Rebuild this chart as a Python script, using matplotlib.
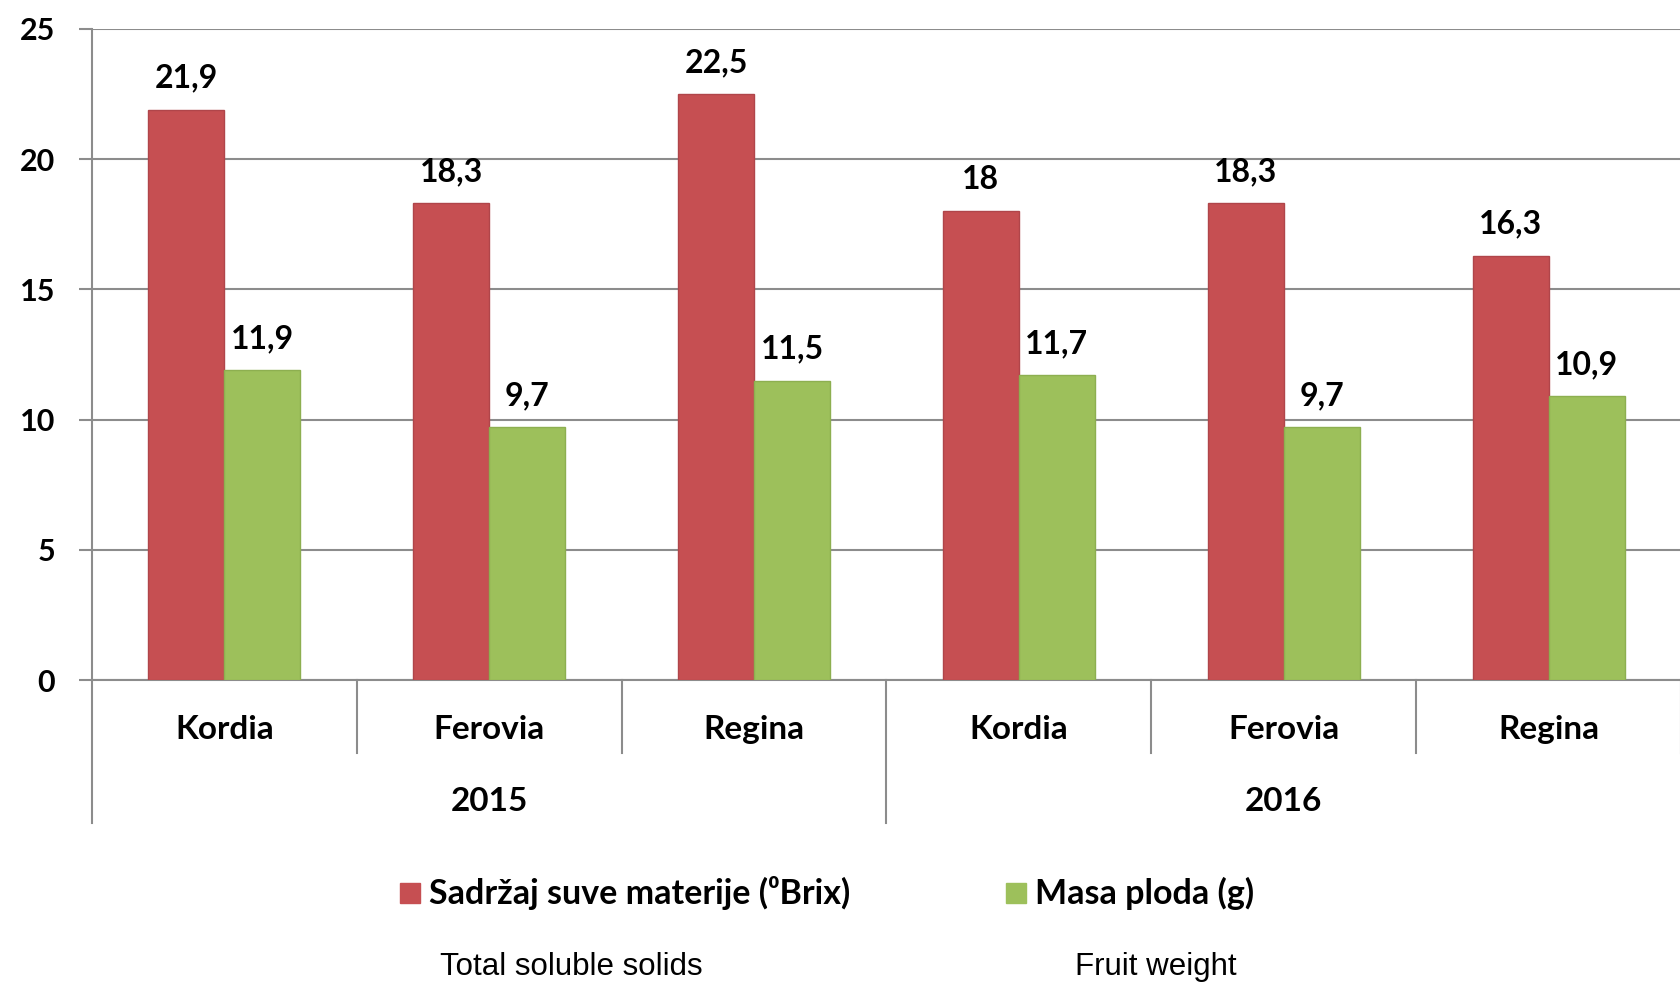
import matplotlib
matplotlib.use("Agg")
import matplotlib.pyplot as plt
from matplotlib.patches import Rectangle
import numpy as np

cultivars = ["Kordia", "Ferovia", "Regina", "Kordia", "Ferovia", "Regina"]
years = ["2015", "2016"]
brix = [21.9, 18.3, 22.5, 18.0, 18.3, 16.3]
fruit_weight = [11.9, 9.7, 11.5, 11.7, 9.7, 10.9]
brix_labels = ["21,9", "18,3", "22,5", "18", "18,3", "16,3"]
weight_labels = ["11,9", "9,7", "11,5", "11,7", "9,7", "10,9"]
series_names = ["Sadržaj suve materije (⁰Brix)", "Masa ploda (g)"]
series_names_en = ["Total soluble solids", "Fruit weight"]

RED = "#C64F52"
GREEN = "#9DC05B"
GRID = "#8C8C8C"
BOLD = ["Lato", "DejaVu Sans"]

fig = plt.figure(figsize=(16.81, 9.84), dpi=100)
ax = fig.add_axes([92 / 1681, 1 - 680 / 984, 1 - 92 / 1681, 651 / 984])

x = np.arange(len(cultivars))
w = 0.287
ax.bar(x - w / 2, brix, w, color=RED, edgecolor="#B0454A", linewidth=1, zorder=3)
ax.bar(x + w / 2, fruit_weight, w, color=GREEN, edgecolor="#8DAF50", linewidth=1, zorder=3)

for xi, v, lab in zip(x - w / 2, brix, brix_labels):
    ax.annotate(lab, (xi, v), xytext=(0, 16), textcoords="offset points",
                ha="center", va="baseline", fontsize=23, fontweight="bold", family=BOLD)
for xi, v, lab in zip(x + w / 2, fruit_weight, weight_labels):
    ax.annotate(lab, (xi, v), xytext=(0, 16), textcoords="offset points",
                ha="center", va="baseline", fontsize=23, fontweight="bold", family=BOLD)

ax.set_xlim(-0.5, len(cultivars) - 0.5)
ax.set_ylim(0, 25)
ax.set_yticks(range(0, 26, 5))
ax.yaxis.grid(True, color=GRID, linewidth=1.5, zorder=0)
ax.tick_params(axis="y", length=9.4, width=1.5, color=GRID, pad=17, labelsize=22)
for t in ax.get_yticklabels():
    t.set_fontweight("bold")
    t.set_family(BOLD)
ax.set_xticks([])
for side in ["top", "right", "left"]:
    ax.spines[side].set_visible(False)
ax.spines["bottom"].set_color(GRID)
ax.spines["bottom"].set_linewidth(1.5)

# two-level category axis drawn below the plot
tr = ax.get_xaxis_transform()
ax.plot([-0.5, -0.5], [1, -0.2197], transform=tr, color=GRID, lw=1.5, clip_on=False)
for b in [0.5, 1.5, 3.5, 4.5, 5.5]:
    ax.plot([b, b], [0, -0.112], transform=tr, color=GRID, lw=1.5, clip_on=False)
ax.plot([2.5, 2.5], [0, -0.2197], transform=tr, color=GRID, lw=1.5, clip_on=False)
for xi, name in zip(x, cultivars):
    ax.text(xi, -0.0753, name, transform=tr, ha="center", va="center",
            fontsize=24, fontweight="bold", family=BOLD)
for i, yr in enumerate(years):
    ax.text(1 + 3 * i, -0.186, yr, transform=tr, ha="center", va="center",
            fontsize=24, fontweight="bold", family=BOLD)

# legend
for (x0, col, name, en, ex) in [(400, RED, series_names[0], series_names_en[0], 440),
                                 (1006, GREEN, series_names[1], series_names_en[1], 1075)]:
    fig.patches.append(Rectangle((x0 / 1681, 1 - 903 / 984), 20 / 1681, 20 / 984,
                                 transform=fig.transFigure, color=col))
    fig.text((x0 + 29) / 1681, 1 - 893 / 984, name, ha="left", va="center",
             fontsize=24.5, fontweight="bold", family=BOLD)
    fig.text(ex / 1681, 1 - 967 / 984, en, ha="left", va="center",
             fontsize=22.5, family=["Liberation Sans", "DejaVu Sans"])

fig.savefig("out.png", dpi=100)
